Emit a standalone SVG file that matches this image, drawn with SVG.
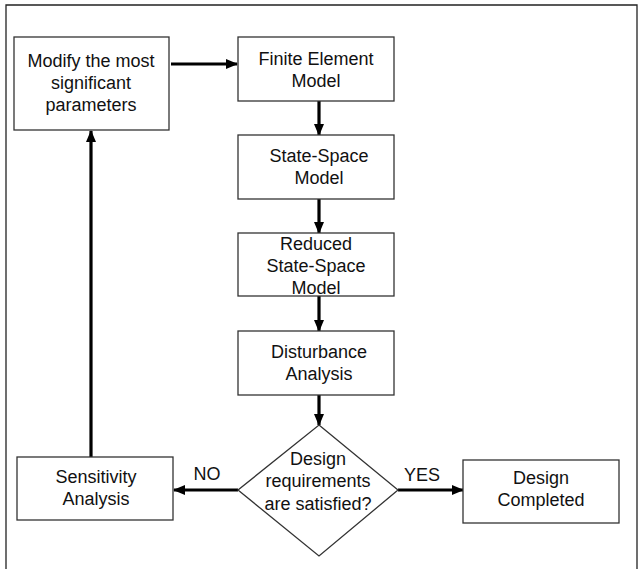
<svg xmlns="http://www.w3.org/2000/svg" width="639" height="569" viewBox="0 0 639 569">
<style>
.box{fill:#fff;stroke:#333;stroke-width:1.3}
.t{font-family:"Liberation Sans",Arial,sans-serif;font-size:18px;fill:#111;text-anchor:middle}
.c{stroke:#000;stroke-width:3.2;fill:none;marker-end:url(#ah)}
.ln{stroke:#000;stroke-width:3.2;fill:none}
</style>
<defs>
<marker id="ah" markerUnits="userSpaceOnUse" markerWidth="12" markerHeight="10" refX="11" refY="5" orient="auto">
<path d="M0,0 L12,5 L0,10 Z" fill="#000"/>
</marker>
</defs>
<rect width="639" height="569" fill="#fff"/>
<path d="M6,569 V5 H637 V569" fill="none" stroke="#222" stroke-width="1.3"/>
<g id="connectors">
<line class="c" x1="171" y1="64" x2="237" y2="64"/>
<line class="c" x1="319" y1="101" x2="319" y2="135"/>
<line class="c" x1="319" y1="199" x2="319" y2="233"/>
<line class="c" x1="319" y1="296" x2="319" y2="331"/>
<line class="c" x1="319" y1="395" x2="319" y2="425"/>
<line class="c" x1="238" y1="490" x2="174" y2="490"/>
<line class="c" x1="398" y1="490" x2="463" y2="490"/>
<line class="c" x1="91" y1="457" x2="91" y2="131"/>
<text class="t" x="207" y="480">NO</text>
<text class="t" x="422" y="481">YES</text>
</g>
<g id="modify">
<rect class="box" x="14" y="37" width="155" height="93"/>
<text class="t" x="91" y="67">Modify the most</text>
<text class="t" x="91" y="89">significant</text>
<text class="t" x="91" y="111">parameters</text>
</g>
<g id="fem">
<rect class="box" x="238" y="37" width="156" height="64"/>
<text class="t" x="316" y="65">Finite Element</text>
<text class="t" x="316" y="87">Model</text>
</g>
<g id="ss">
<rect class="box" x="238" y="135" width="156" height="64"/>
<text class="t" x="319" y="162">State-Space</text>
<text class="t" x="319" y="184">Model</text>
</g>
<g id="rss">
<rect class="box" x="238" y="233" width="156" height="63"/>
<text class="t" x="316" y="250">Reduced</text>
<text class="t" x="316" y="272">State-Space</text>
<text class="t" x="316" y="294">Model</text>
</g>
<g id="dist">
<rect class="box" x="238" y="331" width="156" height="64"/>
<text class="t" x="319" y="358">Disturbance</text>
<text class="t" x="319" y="380">Analysis</text>
</g>
<g id="decision">
<polygon class="box" points="319,425 398,490 319,556 238,490"/>
<text class="t" x="318" y="465">Design</text>
<text class="t" x="318" y="487">requirements</text>
<text class="t" x="318" y="510">are satisfied?</text>
</g>
<g id="sens">
<rect class="box" x="17" y="457" width="156" height="63"/>
<text class="t" x="96" y="483">Sensitivity</text>
<text class="t" x="96" y="505">Analysis</text>
</g>
<g id="done">
<rect class="box" x="463" y="460" width="156" height="63"/>
<text class="t" x="541" y="484">Design</text>
<text class="t" x="541" y="506">Completed</text>
</g>
</svg>
